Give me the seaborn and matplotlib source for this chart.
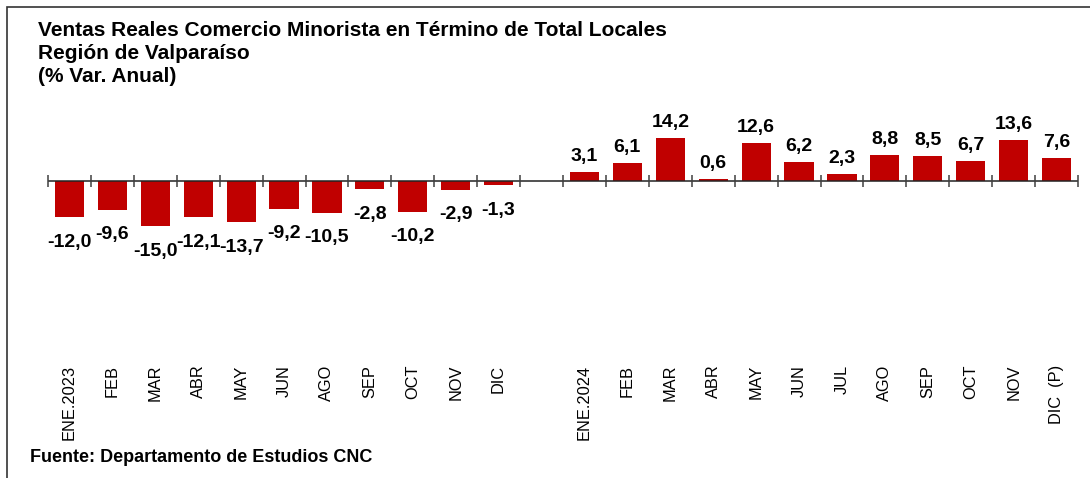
import numpy as np
import pandas as pd
import seaborn as sns
import matplotlib.pyplot as plt
from matplotlib.patches import Rectangle

# Data (% var. anual)
meses_2023 = ['ENE.2023', 'FEB', 'MAR', 'ABR', 'MAY', 'JUN', 'AGO', 'SEP', 'OCT', 'NOV', 'DIC']
valores_2023 = [-12.0, -9.6, -15.0, -12.1, -13.7, -9.2, -10.5, -2.8, -10.2, -2.9, -1.3]
meses_2024 = ['ENE.2024', 'FEB', 'MAR', 'ABR', 'MAY', 'JUN', 'JUL', 'AGO', 'SEP', 'OCT', 'NOV', 'DIC  (P)']
valores_2024 = [3.1, 6.1, 14.2, 0.6, 12.6, 6.2, 2.3, 8.8, 8.5, 6.7, 13.6, 7.6]

titulo = 'Ventas Reales Comercio Minorista en Término de Total Locales\nRegión de Valparaíso\n(% Var. Anual)'
fuente = 'Fuente: Departamento de Estudios CNC'

# one empty category between the two years
etiquetas = meses_2023 + [''] + meses_2024
valores = valores_2023 + [np.nan] + valores_2024
claves = [f'{i:02d}' for i in range(len(etiquetas))]
df = pd.DataFrame({'clave': claves, 'valor': valores})

sns.set_style('white')
plt.rcParams['font.family'] = ['Liberation Sans', 'DejaVu Sans']
plt.rcParams['text.color'] = 'black'
plt.rcParams['xtick.color'] = 'black'

W, H = 1090, 478
fig = plt.figure(figsize=(W / 100, H / 100), dpi=100)
ax = fig.add_axes([48 / W, 1 - 355 / H, (1078 - 48) / W, 255 / H])

sns.barplot(data=df, x='clave', y='valor', order=claves, color='#C00000',
            width=0.68, saturation=1, edgecolor='none', ax=ax)

ax.set_xlim(-0.5, len(claves) - 0.5)
ax.set_ylim(-58, 27)
ax.set_xlabel('')
ax.set_ylabel('')
ax.set_yticks([])
ax.set_xticks(range(len(etiquetas)))
ax.set_xticklabels(etiquetas, rotation=90, fontsize=11.8, va='top', color='black')
ax.tick_params(axis='x', length=0, pad=7)
for s in ax.spines.values():
    s.set_visible(False)

# zero line with category boundary ticks
ax.axhline(0, color='#222222', lw=1.1, zorder=3)
limites = np.arange(len(claves) + 1) - 0.5
ax.plot(limites, np.zeros(len(limites)), ls='none', marker='|', ms=9,
        mew=1.1, color='#404040', zorder=3, clip_on=False)

# data labels
for i, v in enumerate(valores):
    if np.isnan(v):
        continue
    txt = f'{v:.1f}'.replace('.', ',')
    if v < 0:
        ax.annotate(txt, (i, v), xytext=(0, -12), textcoords='offset points',
                    ha='center', va='top', fontsize=14, fontweight='bold', color='black')
    else:
        ax.annotate(txt, (i, v), xytext=(0, 5), textcoords='offset points',
                    ha='center', va='bottom', fontsize=14, fontweight='bold', color='black')

fig.text(38 / W, 1 - 21 / H, titulo, ha='left', va='top', fontsize=15,
         fontweight='bold', linespacing=1.26, color='black')
fig.text(30 / W, 1 - 458 / H, fuente, ha='left', va='center', fontsize=13,
         fontweight='bold', color='black')

# outer frame (cropped on the right and bottom)
fig.patches.append(Rectangle((7 / W, -0.1), 1.2, 1 - 7 / H + 0.1, transform=fig.transFigure,
                             fill=False, edgecolor='#333333', lw=1.2))

fig.savefig('out.png', dpi=100)
